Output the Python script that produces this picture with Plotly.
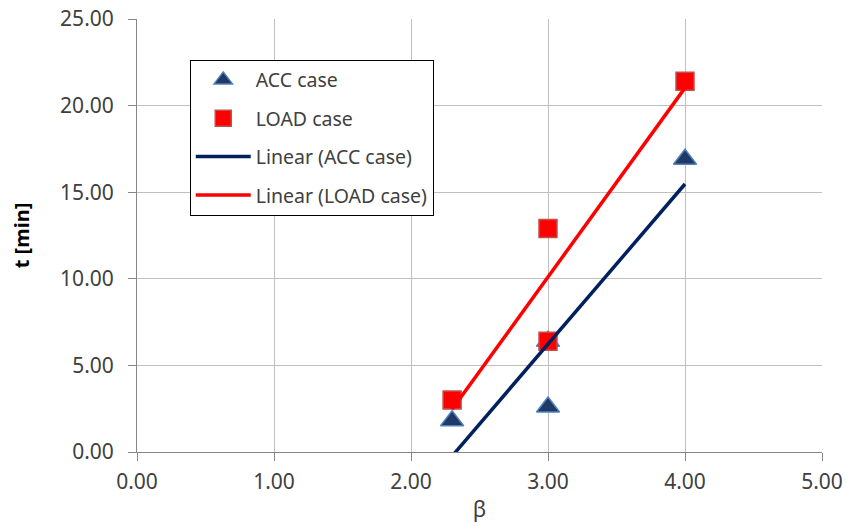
import numpy as np
import plotly.graph_objects as go

# Data
acc_beta = [2.3, 3.0, 3.0, 4.0]
acc_t = [1.8, 6.4, 2.6, 16.9]
load_beta = [2.3, 3.0, 3.0, 4.0]
load_t = [3.0, 12.9, 6.4, 21.4]

x_ticks = [0, 1, 2, 3, 4, 5]
y_ticks = [0, 5, 10, 15, 20, 25]

FONT = "Noto Sans"
TXT = "#404040"

def trend(xs, ys):
    m, b = np.polyfit(xs, ys, 1)
    xr = np.array([min(xs), max(xs)])
    return xr, m * xr + b

fig = go.Figure()

fig.add_trace(go.Scatter(
    x=acc_beta, y=acc_t, mode="markers", name="ACC case", legendgroup="a",
    marker=dict(symbol="triangle-up", size=20, color="#1F3864",
                line=dict(color="#4F81BD", width=1.5)),
))
fig.add_trace(go.Scatter(
    x=load_beta, y=load_t, mode="markers", name="LOAD case", legendgroup="b",
    marker=dict(symbol="square", size=18, color="#FF0000",
                line=dict(color="#C0504D", width=1.5)),
))
ax, ay = trend(acc_beta, acc_t)
fig.add_trace(go.Scatter(
    x=ax, y=ay, mode="lines", name="Linear (ACC case)", legendgroup="c",
    line=dict(color="#002060", width=3.5),
))
lx, ly = trend(load_beta, load_t)
fig.add_trace(go.Scatter(
    x=lx, y=ly, mode="lines", name="Linear (LOAD case)", legendgroup="d",
    line=dict(color="#FF0000", width=3.5),
))

axis_common = dict(
    showgrid=True, gridcolor="#BFBFBF", gridwidth=1,
    showline=True, linecolor="#868686", linewidth=1,
    ticks="outside", ticklen=8, tickcolor="#868686",
    tickformat=".2f", zeroline=False, automargin=False,
    tickfont=dict(family=FONT, size=21, color=TXT),
    mirror=False,
)

fig.update_layout(
    width=846, height=523, autosize=False,
    margin=dict(l=137, r=24, t=19, b=71, autoexpand=False),
    paper_bgcolor="white", plot_bgcolor="white",
    font=dict(family=FONT, size=19, color=TXT),
    showlegend=True,
    legend=dict(
        x=0.077, y=0.906, xanchor="left", yanchor="top",
        bgcolor="white", bordercolor="#000000", borderwidth=1,
        font=dict(family=FONT, size=19.5, color=TXT),
        tracegroupgap=10, itemwidth=55,
    ),
    xaxis=dict(range=[0, 5], tickvals=x_ticks, ticklabelstandoff=3,
               title=dict(text="β", font=dict(family=FONT, size=22, color=TXT), standoff=7),
               **axis_common),
    yaxis=dict(range=[0, 25], tickvals=y_ticks, ticklabelstandoff=10,
               title=dict(text="<b>t [min]</b>", font=dict(family=FONT, size=20, color="#000000"), standoff=25),
               **axis_common),
)

fig.write_html("out.html", config={"displayModeBar": False},
               post_script="document.body.style.margin='0';document.body.style.overflow='hidden';")
